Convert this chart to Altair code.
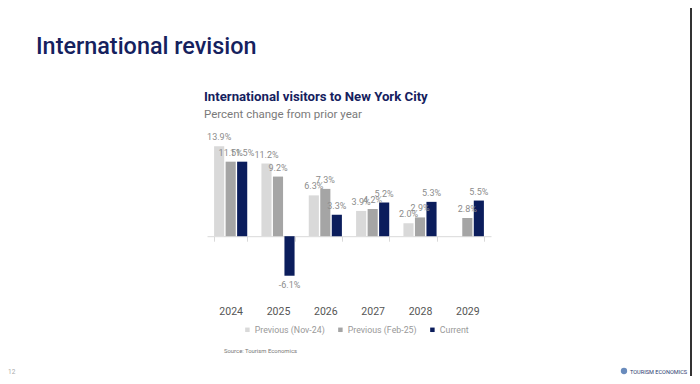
import altair as alt
import pandas as pd

years = ["2024", "2025", "2026", "2027", "2028", "2029"]
series_names = ["Previous (Nov-24)", "Previous (Feb-25)", "Current"]
prev_nov24 = [13.9, 11.2, 6.3, 3.9, 2.0, None]
prev_feb25 = [11.5, 9.2, 7.3, 4.2, 2.9, 2.8]
current = [11.5, -6.1, 3.3, 5.2, 5.3, 5.5]
colors = ["#d9d9d9", "#a5a5a5", "#0b1d5c"]

rows = []
for name, vals in zip(series_names, [prev_nov24, prev_feb25, current]):
    for y, v in zip(years, vals):
        if v is not None:
            rows.append({"year": y, "series": name, "value": v, "label": f"{v:.1f}%"})
df = pd.DataFrame(rows)

FONT = "Roboto"
W, H = 284, 162

x_enc = alt.X("year:N", sort=years,
              scale=alt.Scale(paddingInner=0.3, paddingOuter=0.15),
              axis=alt.Axis(title=None, labelAngle=0, orient="bottom", offset=-64.8,
                            domainColor="#d9d9d9", tickColor="#d9d9d9", tickSize=5,
                            tickBand="extent", labelPadding=65, labelFontSize=10.5,
                            labelColor="#555555", labelFont=FONT))
xo_enc = alt.XOffset("series:N", sort=series_names,
                     scale=alt.Scale(domain=series_names, paddingInner=0.12, paddingOuter=0))
y_enc = alt.Y("value:Q", scale=alt.Scale(domain=[-10, 15], nice=False, zero=True), axis=None)

base = alt.Chart(df)

bars = base.mark_bar().encode(
    x=x_enc, xOffset=xo_enc, y=y_enc,
    color=alt.Color("series:N", sort=series_names,
                    scale=alt.Scale(domain=series_names, range=colors),
                    legend=alt.Legend(title=None, orient="none", direction="horizontal",
                                      legendX=36, legendY=186, symbolType="square",
                                      symbolSize=20, symbolStrokeWidth=0,
                                      labelFontSize=8.8, labelColor="#999999",
                                      labelFont=FONT, columnPadding=11, symbolOffset=0,
                                      labelOffset=3)),
)

pos_labels = base.transform_filter("datum.value >= 0").mark_text(
    baseline="bottom", dy=-4, fontSize=9, color="#8c8c8c", font=FONT
).encode(x=x_enc, xOffset=xo_enc, y=y_enc, text="label:N")

neg_labels = base.transform_filter("datum.value < 0").mark_text(
    baseline="top", dy=5, fontSize=9, color="#8c8c8c", font=FONT
).encode(x=x_enc, xOffset=xo_enc, y=y_enc, text="label:N")


def note(text, x, y, size, color, weight="normal"):
    return alt.Chart(pd.DataFrame({"t": [text]})).mark_text(
        align="left", baseline="alphabetic", fontSize=size, color=color,
        font=FONT, fontWeight=weight
    ).encode(x=alt.value(x), y=alt.value(y), text="t:N")


main_title = note("International revision", -171, -85, 23.4, "#15215e", 500)
chart_title = note("International visitors to New York City", -3, -38, 13.2, "#15215e", "bold")
subtitle = note("Percent change from prior year", -3, -21, 11.5, "#7a7a7a")
source = note("Source: Tourism Economics", 17, 214, 5.9, "#777777")
logo_text = note("TOURISM ECONOMICS", 423, 235, 5.6, "#2a3a6e")
page_num = note("12", -199, 235, 6.5, "#aaaaaa")

logo_dot = alt.Chart(pd.DataFrame({"t": [1]})).mark_point(
    filled=True, shape="circle", size=40, color="#2a5aa0"
).encode(x=alt.value(417), y=alt.value(232))

edge_line = alt.Chart(pd.DataFrame({"t": [1]})).mark_rule(
    color="#333333", strokeWidth=2
).encode(x=alt.value(484), y=alt.value(-131), y2=alt.value(237))

chart = alt.layer(
    bars, pos_labels, neg_labels, main_title, chart_title, subtitle, source,
    logo_text, logo_dot, page_num, edge_line
).properties(
    width=W, height=H,
    autosize=alt.AutoSizeParams(type="none"),
    padding={"left": 199, "top": 131, "right": 201, "bottom": 75},
    background="#ffffff",
).configure_view(stroke=None)

chart.save("out.html", embed_options={"renderer": "svg", "actions": False})
